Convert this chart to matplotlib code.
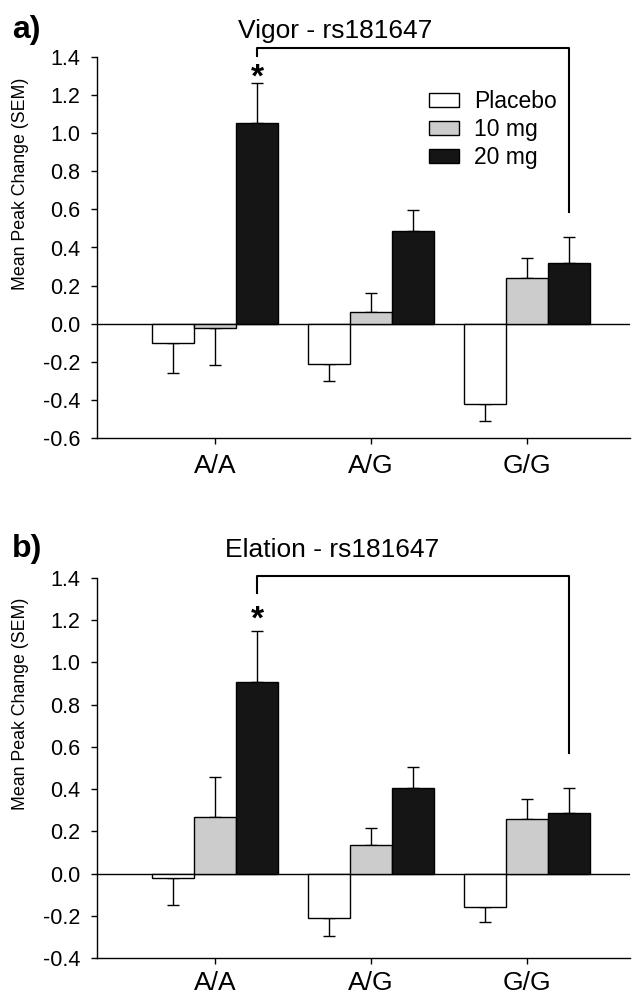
import numpy as np
import matplotlib
matplotlib.use("Agg")
import matplotlib.pyplot as plt

plt.rcParams['font.family'] = ['Liberation Sans', 'DejaVu Sans']

# ---------------- data ----------------
genotypes = ["A/A", "A/G", "G/G"]
doses = ["Placebo", "10 mg", "20 mg"]
yticks_a = [-0.6, -0.4, -0.2, 0.0, 0.2, 0.4, 0.6, 0.8, 1.0, 1.2, 1.4]
yticks_b = [-0.4, -0.2, 0.0, 0.2, 0.4, 0.6, 0.8, 1.0, 1.2, 1.4]

vigor_placebo = [-0.10, -0.21, -0.42]
vigor_placebo_sem = [0.16, 0.09, 0.09]
vigor_10mg = [-0.02, 0.06, 0.24]
vigor_10mg_sem = [0.195, 0.10, 0.105]
vigor_20mg = [1.055, 0.485, 0.32]
vigor_20mg_sem = [0.207, 0.11, 0.135]

elation_placebo = [-0.02, -0.21, -0.157]
elation_placebo_sem = [0.128, 0.084, 0.072]
elation_10mg = [0.268, 0.134, 0.257]
elation_10mg_sem = [0.19, 0.082, 0.098]
elation_20mg = [0.909, 0.406, 0.288]
elation_20mg_sem = [0.24, 0.10, 0.115]

colors = ["white", "#cccccc", "#151515"]

W, H = 640, 996
fig = plt.figure(figsize=(W / 100, H / 100), dpi=100)


def px_axes(left, right, top, bottom):
    return fig.add_axes([left / W, (H - bottom) / H, (right - left) / W, (bottom - top) / H])


def panel(ax, means, sems, yticks, ylim, bracket, star_y, show_legend, xpad):
    x = np.arange(len(genotypes))
    w = 0.269
    ax.axhline(0, color="black", lw=1.0, zorder=1)
    handles = []
    for i, (m, s) in enumerate(zip(means, sems)):
        m = np.asarray(m)
        s = np.asarray(s)
        lower = np.where(m < 0, s, 0.0)
        upper = np.where(m >= 0, s, 0.0)
        xpos = x + (i - 1) * w
        b = ax.bar(xpos, m, width=w, color=colors[i], edgecolor="black",
                   linewidth=1.0, zorder=3, label=doses[i])
        ax.errorbar(xpos, m, yerr=[lower, upper], fmt="none", ecolor="black",
                    elinewidth=1.0, capsize=4, capthick=1.0, zorder=2)
        handles.append(b)
    ax.set_xlim(-0.757, 2.66)
    ax.set_ylim(*ylim)
    ax.set_yticks(yticks)
    ax.set_yticklabels([f"{t:.1f}" for t in yticks], fontsize=15.5)
    ax.set_xticks(x)
    ax.set_xticklabels(genotypes, fontsize=19)
    ax.tick_params(axis="y", direction="out", length=4, width=1, pad=8)
    ax.tick_params(axis="x", direction="out", length=4.5, width=1, pad=xpad)
    for sp in ["top", "right"]:
        ax.spines[sp].set_visible(False)
    for sp in ["left", "bottom"]:
        ax.spines[sp].set_linewidth(1.0)
    ax.set_ylabel("Mean Peak Change (SEM)", fontsize=12.8)
    ax.yaxis.set_label_coords(-0.128, 0.668)
    # significance bracket
    xl = x[0] + w
    xr = x[2] + w
    top, yl, yr = bracket
    ax.plot([xl, xl, xr, xr], [yl, top, top, yr], color="black", lw=1.5,
            clip_on=False, zorder=4)
    ax.text(xl, star_y, "*", ha="center", va="center", fontsize=24,
            fontweight="bold", zorder=5)
    if show_legend:
        ax.legend(handles=handles, labels=doses, loc="upper left",
                  bbox_to_anchor=(429 / W, (H - 90) / H),
                  bbox_transform=fig.transFigure, frameon=False,
                  fontsize=16.5, handlelength=1.3, handleheight=0.61,
                  handletextpad=0.65, labelspacing=0.22, borderpad=0,
                  borderaxespad=0)


ax_a = px_axes(97, 630, 57, 438)
panel(ax_a, [vigor_placebo, vigor_10mg, vigor_20mg],
      [vigor_placebo_sem, vigor_10mg_sem, vigor_20mg_sem],
      yticks_a, (-0.6, 1.4), (1.447, 1.403, 0.586), 1.29, True, 7)

ax_b = px_axes(97, 630, 578, 958)
panel(ax_b, [elation_placebo, elation_10mg, elation_20mg],
      [elation_placebo_sem, elation_10mg_sem, elation_20mg_sem],
      yticks_b, (-0.4, 1.4), (1.41, 1.329, 0.57), 1.20, False, 5)

fig.text(335 / W, (H - 38) / H, "Vigor - rs181647", ha="center", va="baseline", fontsize=19)
fig.text(332 / W, (H - 557) / H, "Elation - rs181647", ha="center", va="baseline", fontsize=19)
fig.text(12 / W, (H - 38) / H, "a)", ha="left", va="baseline", fontsize=23, fontweight="bold")
fig.text(12 / W, (H - 557) / H, "b)", ha="left", va="baseline", fontsize=23, fontweight="bold")

fig.savefig("out.png", dpi=100)
